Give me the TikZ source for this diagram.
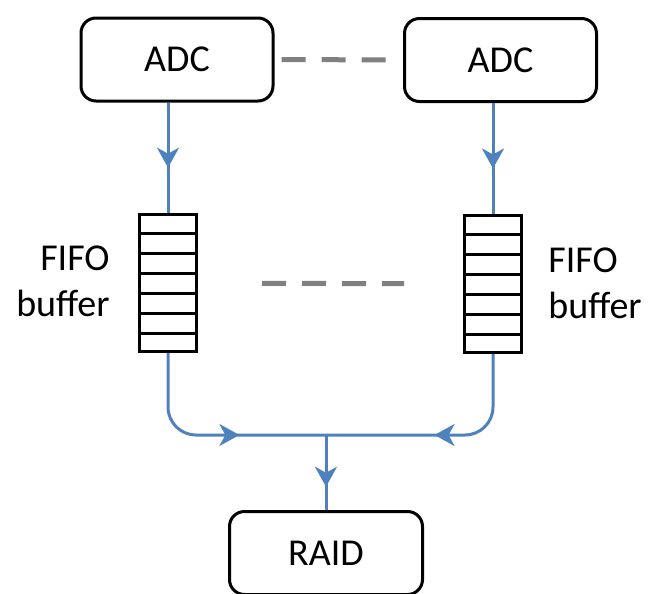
\documentclass[tikz,border=0pt]{standalone}
\usepackage{fontspec}
\setmainfont{Carlito}
\usetikzlibrary{arrows.meta,decorations.markings,calc}
\definecolor{linkblue}{RGB}{79,129,189}
\definecolor{dashgray}{RGB}{128,128,128}

\begin{document}
\begin{tikzpicture}[
  x=0.5pt,y=-0.5pt,
  box/.style={draw,rounded corners=7.5pt,line width=1.5pt,minimum width=96pt,minimum height=41.5pt,inner sep=0pt,font=\fontsize{19}{23}\selectfont},
  fifo/.style={draw,line width=1.5pt,minimum width=28.5pt,minimum height=68.5pt,inner sep=0pt},
  bufname/.style={inner sep=0pt,font=\fontsize{19}{23}\selectfont},
  link/.style={linkblue,line width=1.5pt,rounded corners=14pt,postaction={decorate},
    decoration={markings,mark=at position #1 with {\arrow{Stealth[length=10pt,width=11pt,inset=3pt]}}}},
  gap/.style={dashgray,line width=2.5pt,dash pattern=on 12pt off 8pt}
]
  \clip (0,0) rectangle (648,594);

  \node[box] (adc1) at (177,59.5) {ADC};
  \node[box] (adc2) at (500.5,60) {ADC};
  \node[fifo] (f1) at (168,283) {};
  \node[fifo] (f2) at (493,284) {};
  \node[box,minimum width=96.5pt] (raid) at (326,553) {RAID};
  \coordinate (join) at (326,435);

  \node[bufname,anchor=east,align=right] (b1) at (110,281) {FIFO\\buffer};
  \node[bufname,anchor=west,align=left] (b2) at (548,283) {FIFO\\buffer};

  % cells of the buffers
  \foreach \n in {f1,f2}
    \foreach \i in {1,...,6}
      \draw[line width=1.5pt] ($(\n.north west)!\i/7!(\n.south west)$) -- ($(\n.north east)!\i/7!(\n.south east)$);

  \draw[gap,shorten <=3.5pt,shorten >=8pt] (adc1) -- (adc2);
  \draw[gap,shorten <=32pt,shorten >=29.5pt] (f1) -- (f2);

  \draw[link=0.59] (adc1.south -| f1.north) -- (f1.north);
  \draw[link=0.59] (adc2.south -| f2.north) -- (f2.north);
  \draw[link=0.62] (f1.south) |- (join);
  \draw[link=0.54] (f2.south) |- (join);
  \draw[link=0.69] (join) -- (raid.north);
\end{tikzpicture}
\end{document}
